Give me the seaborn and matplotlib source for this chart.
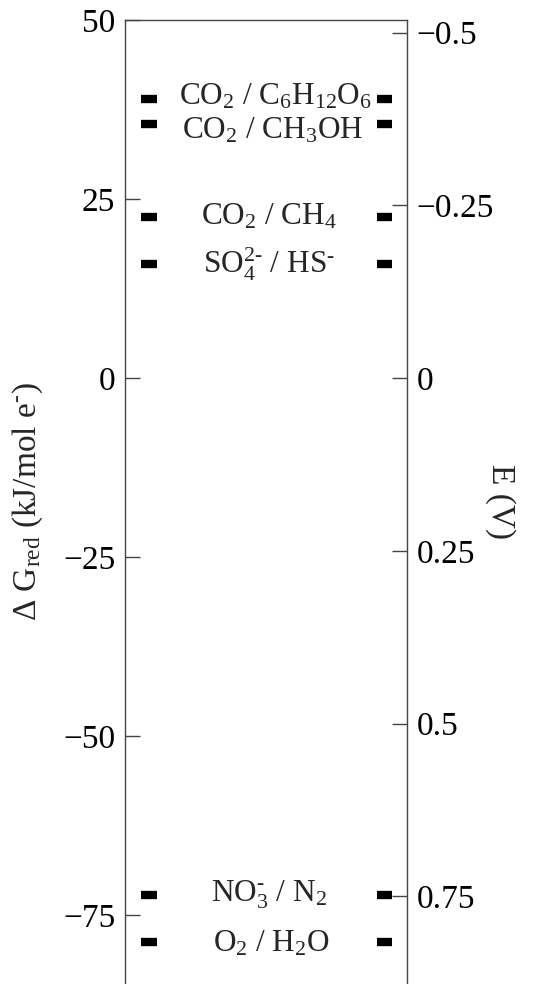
import matplotlib
matplotlib.use("Agg")
import matplotlib.pyplot as plt
import seaborn as sns
import pandas as pd

# redox couples (kJ/mol e-)
couples = ["CO$_2$ / C$_6$H$_{12}$O$_6$", "CO$_2$ / CH$_3$OH", "CO$_2$ / CH$_4$",
           "SO$_4^{2\u2010}$ / HS$^{\u2010}$", "NO$_3^{\u2010}$ / N$_2$", "O$_2$ / H$_2$O"]
dG_red = [39.0, 35.5, 22.5, 15.9, -72.2, -78.7]
label_x = [0.535, 0.525, 0.51, 0.51, 0.51, 0.52]
label_dy = [0.3, -1.0, 0, 0, 0, -0.3]   # small nudges so the two top labels don't collide

left_ticks = [50, 25, 0, -25, -50, -75]
right_ticks = [-0.5, -0.25, 0, 0.25, 0.5, 0.75]
right_labels = ["\u22120.5", "\u22120.25", "0", "0.25", "0.5", "0.75"]

FARADAY = 96.485  # kJ / (mol V)

sns.set_style("ticks")
plt.rcParams["font.family"] = ["Liberation Serif", "DejaVu Serif"]
plt.rcParams["mathtext.default"] = "regular"
plt.rcParams["axes.unicode_minus"] = True

df = pd.DataFrame({"couple": couples, "dG": dG_red})
marks = pd.concat([df.assign(x=0.085), df.assign(x=0.92)], ignore_index=True)

fig = plt.figure(figsize=(5.38, 9.84), dpi=100)
ax = fig.add_axes([0.2323, 0.0, 0.5242, 0.9797])

sns.scatterplot(data=marks, x="x", y="dG", marker="s", s=1, color="black",
                linewidth=0, ax=ax, legend=False)
# the level bars themselves
for _, r in marks.iterrows():
    ax.plot([r.x - 0.027, r.x + 0.027], [r.dG, r.dG], color="black", lw=6,
            solid_capstyle="butt")

for name, g, lx, dy in zip(couples, dG_red, label_x, label_dy):
    ax.text(lx, g + dy, name, ha="center", va="center", fontsize=22.5)

ax.set_xlim(0, 1)
ax.set_ylim(-84.6, 50)
ax.set_xticks([])
ax.set_xlabel("")
ax.spines["bottom"].set_visible(False)
for s in ["left", "right", "top"]:
    ax.spines[s].set_color("#444444")
    ax.spines[s].set_linewidth(1.0)

ax.set_yticks(left_ticks)
ax.set_yticklabels([f"{t}".replace("-", "\u2212") for t in left_ticks])
ax.tick_params(axis="y", direction="in", length=11, width=1, colors="#444444",
               labelcolor="black", labelsize=24, pad=7)

ax.set_ylabel("\u0394 G$_{red}$ (kJ/mol e$^{\u2010}$)", fontsize=24)
ax.yaxis.set_label_coords(-0.285, 0.5)

sec = ax.secondary_yaxis("right", functions=(lambda g: -g / FARADAY,
                                             lambda e: -e * FARADAY))
sec.set_yticks(right_ticks)
sec.set_yticklabels(right_labels)
sec.tick_params(axis="y", direction="in", length=11, width=1, colors="#444444",
                labelcolor="black", labelsize=24, pad=7)
sec.spines["right"].set_visible(False)
sec.set_ylabel("E (V)", fontsize=24, rotation=270, va="center")
sec.yaxis.set_label_coords(1.33, 0.5, transform=ax.transAxes)

fig.savefig("out.png", dpi=100)
